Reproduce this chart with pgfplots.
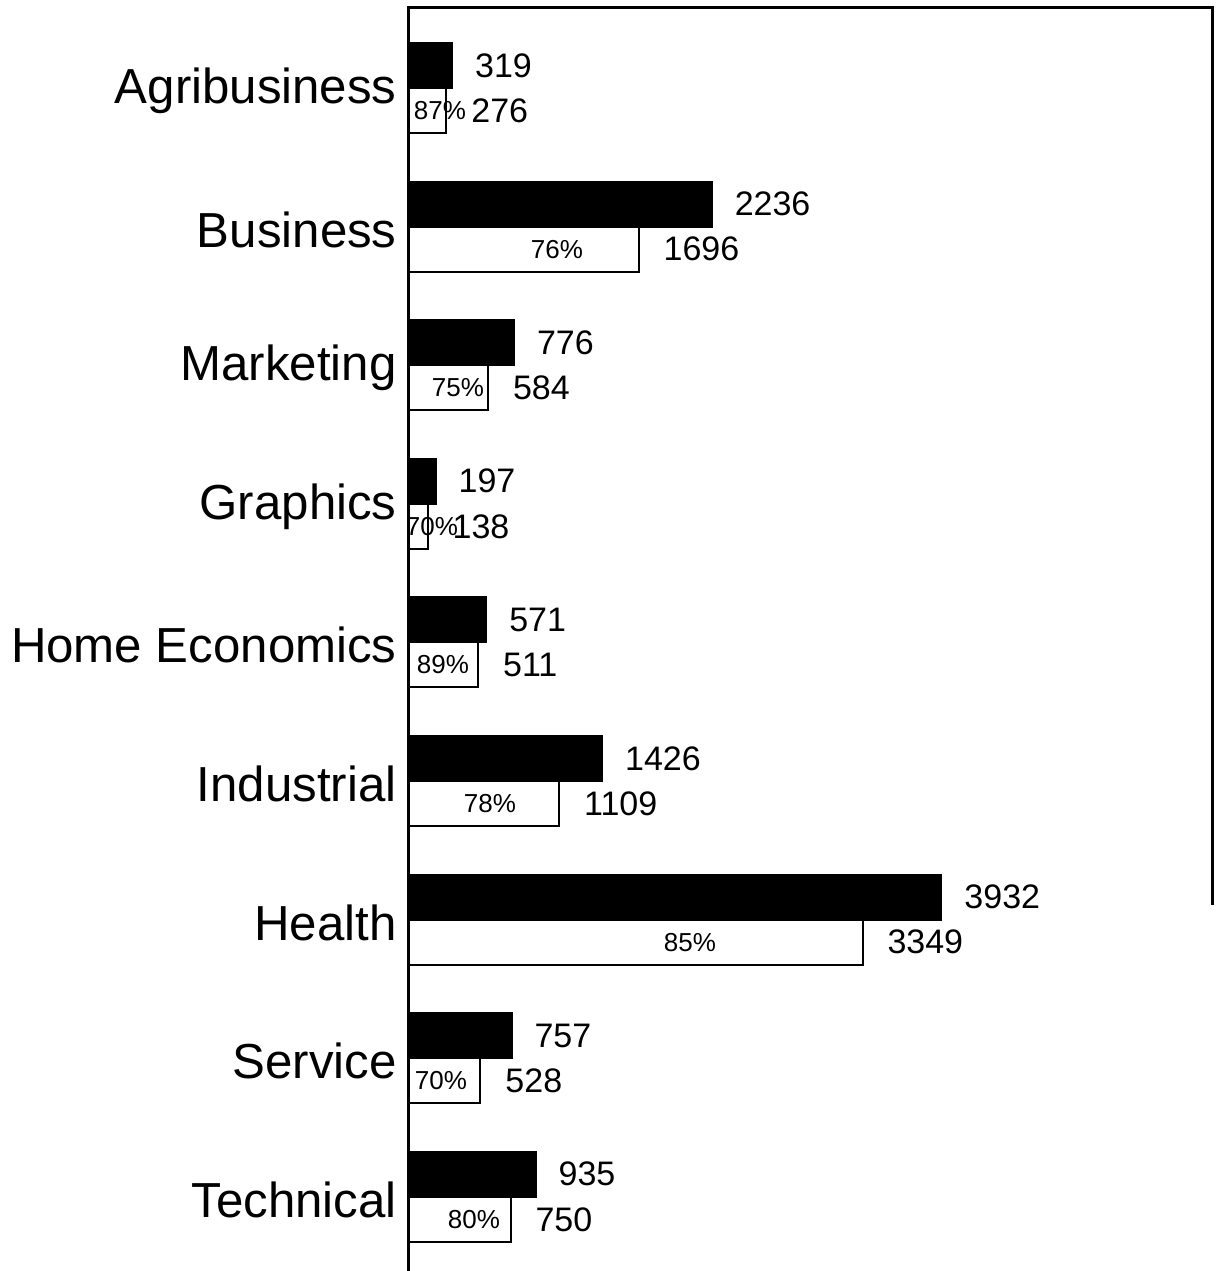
\documentclass[border=0pt]{standalone}
\usepackage{pgfplots}
\pgfplotsset{compat=1.18}
\usepackage{fontspec}
\setmainfont{Liberation Sans}

\begin{document}
\begin{tikzpicture}
\begin{axis}[
  name=ax, anchor=south west, at={(0,0)},
  width=401.5bp, height=631.5bp, scale only axis,
  xmin=0, xmax=5930,
  ymin=-0.577, ymax=8.535, y dir=reverse,
  axis line style={draw=none}, clip=false,
  ytick={0,...,8}, xtick=\empty,
  yticklabels={Agribusiness,Business,Marketing,Graphics,Home Economics,Industrial,Health,Service,Technical},
  major tick length=0pt,
  yticklabel style={font=\fontsize{24.6bp}{28bp}\selectfont, inner sep=0pt, xshift=-6bp, yshift=-1.5bp},
  /pgf/number format/.cd, 1000 sep={}, assume math mode=true,
]
% total
\addplot[xbar, bar width=0.325, bar shift=-0.1625, fill=black, draw=black, line width=1bp,
  nodes near coords, nodes near coords style={anchor=west, inner sep=0pt, xshift=11bp, yshift=11.3bp, font=\fontsize{17bp}{20bp}\selectfont}]
  coordinates {(319,0) (2236,1) (776,2) (197,3) (571,4) (1426,5) (3932,6) (757,7) (935,8)};
% completers
\addplot[xbar, bar width=0.325, bar shift=0.1625, fill=white, draw=black, line width=1bp,
  nodes near coords, nodes near coords style={anchor=west, inner sep=0pt, xshift=12bp, yshift=-11.3bp, font=\fontsize{17bp}{20bp}\selectfont}]
  coordinates {(276,0) (1696,1) (584,2) (138,3) (511,4) (1109,5) (3349,6) (528,7) (750,8)};
% percentages
\addplot[draw=none, nodes near coords, point meta=explicit symbolic,
  nodes near coords style={anchor=center, inner sep=0pt, font=\fontsize{13bp}{15bp}\selectfont}]
  coordinates {(229,0.1625)[87\%] (1093,1.1625)[76\%] (362,2.1625)[75\%] (170,3.1625)[70\%]
    (251,4.1625)[89\%] (598,5.1625)[78\%] (2075,6.1625)[85\%] (236,7.1625)[70\%] (480,8.1625)[80\%]};
\draw[line width=1.5bp] (rel axis cs:0,0) -- (rel axis cs:0,1) -- (rel axis cs:1,1) -- (rel axis cs:1,0.29);
\end{axis}
\pgfresetboundingbox
\path (-204.5bp,0) rectangle (405bp,635.5bp);
\end{tikzpicture}
\end{document}
